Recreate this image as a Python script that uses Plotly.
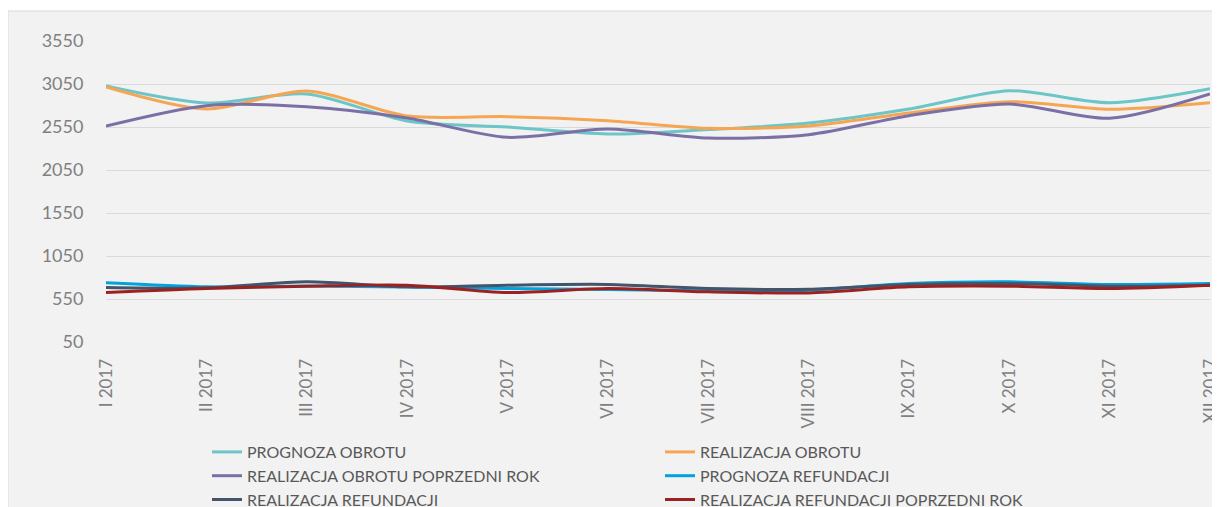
import plotly.graph_objects as go

months = ["I 2017", "II 2017", "III 2017", "IV 2017", "V 2017", "VI 2017",
          "VII 2017", "VIII 2017", "IX 2017", "X 2017", "XI 2017", "XII 2017"]

prognoza_obrotu = [3027, 2829, 2934, 2620, 2550, 2468, 2520, 2596, 2759, 2972, 2832, 2995]
realizacja_obrotu = [3015, 2759, 2968, 2678, 2670, 2623, 2535, 2561, 2713, 2844, 2756, 2832]
realizacja_obrotu_pr = [2561, 2798, 2786, 2655, 2430, 2527, 2422, 2460, 2681, 2817, 2651, 2934]
prognoza_refundacji = [738, 691, 700, 690, 672, 660, 645, 652, 730, 750, 719, 730]
realizacja_refundacji = [684, 680, 750, 691, 711, 719, 672, 664, 719, 730, 699, 711]
realizacja_refundacji_pr = [625, 672, 699, 711, 625, 672, 633, 621, 691, 699, 672, 711]

series = [
    ("PROGNOZA OBROTU", prognoza_obrotu, "#6cc5c6"),
    ("REALIZACJA OBROTU", realizacja_obrotu, "#f6a652"),
    ("REALIZACJA OBROTU POPRZEDNI ROK", realizacja_obrotu_pr, "#7b70a6"),
    ("PROGNOZA REFUNDACJI", prognoza_refundacji, "#00a3dd"),
    ("REALIZACJA REFUNDACJI", realizacja_refundacji, "#44546a"),
    ("REALIZACJA REFUNDACJI POPRZEDNI ROK", realizacja_refundacji_pr, "#9c2222"),
]

fig = go.Figure()
for name, vals, color in series:
    fig.add_trace(go.Scatter(
        x=months, y=vals, name=name, mode="lines",
        line=dict(color=color, width=3, shape="spline", smoothing=0.8),
    ))

W, H = 1220, 507
L, R, T, B = 98, 18, 33, 173
pw, ph = W - L - R, H - T - B

def px_x(p):
    return (p - L) / pw

def px_y(p):
    return (H - B - p) / ph

fig.add_shape(type="rect", xref="paper", yref="paper",
              x0=px_x(0), x1=px_x(1240), y0=px_y(530), y1=px_y(3),
              fillcolor="#f2f2f2", line=dict(color="#d9d9d9", width=1),
              layer="below")

fig.update_layout(
    width=W, height=H,
    margin=dict(l=L, r=R, t=T, b=B, autoexpand=False),
    paper_bgcolor="white",
    plot_bgcolor="rgba(0,0,0,0)",
    font=dict(family="Lato, Open Sans, sans-serif", color="#808080"),
    showlegend=True,
    legend=dict(
        orientation="h", x=px_x(199), xanchor="left", y=px_y(427), yanchor="top",
        entrywidth=408, entrywidthmode="pixels",
        font=dict(size=16, color="#595959", family="Lato, sans-serif"),
        bgcolor="rgba(0,0,0,0)", itemwidth=30, tracegroupgap=0,
    ),
    xaxis=dict(
        type="category", range=[0, 11], showgrid=False, zeroline=False,
        showline=False, tickangle=-90,
        tickfont=dict(size=17, color="#808080"),
        ticks="outside", ticklen=9, tickcolor="rgba(0,0,0,0)",
    ),
    yaxis=dict(
        range=[50, 3550], tick0=50, dtick=500, showgrid=True,
        gridcolor="#d9d9d9", gridwidth=1, zeroline=False, showline=False,
        tickfont=dict(size=18, color="#808080"),
        ticks="outside", ticklen=18, tickcolor="rgba(0,0,0,0)",
    ),
)

fig.write_html("out.html")
